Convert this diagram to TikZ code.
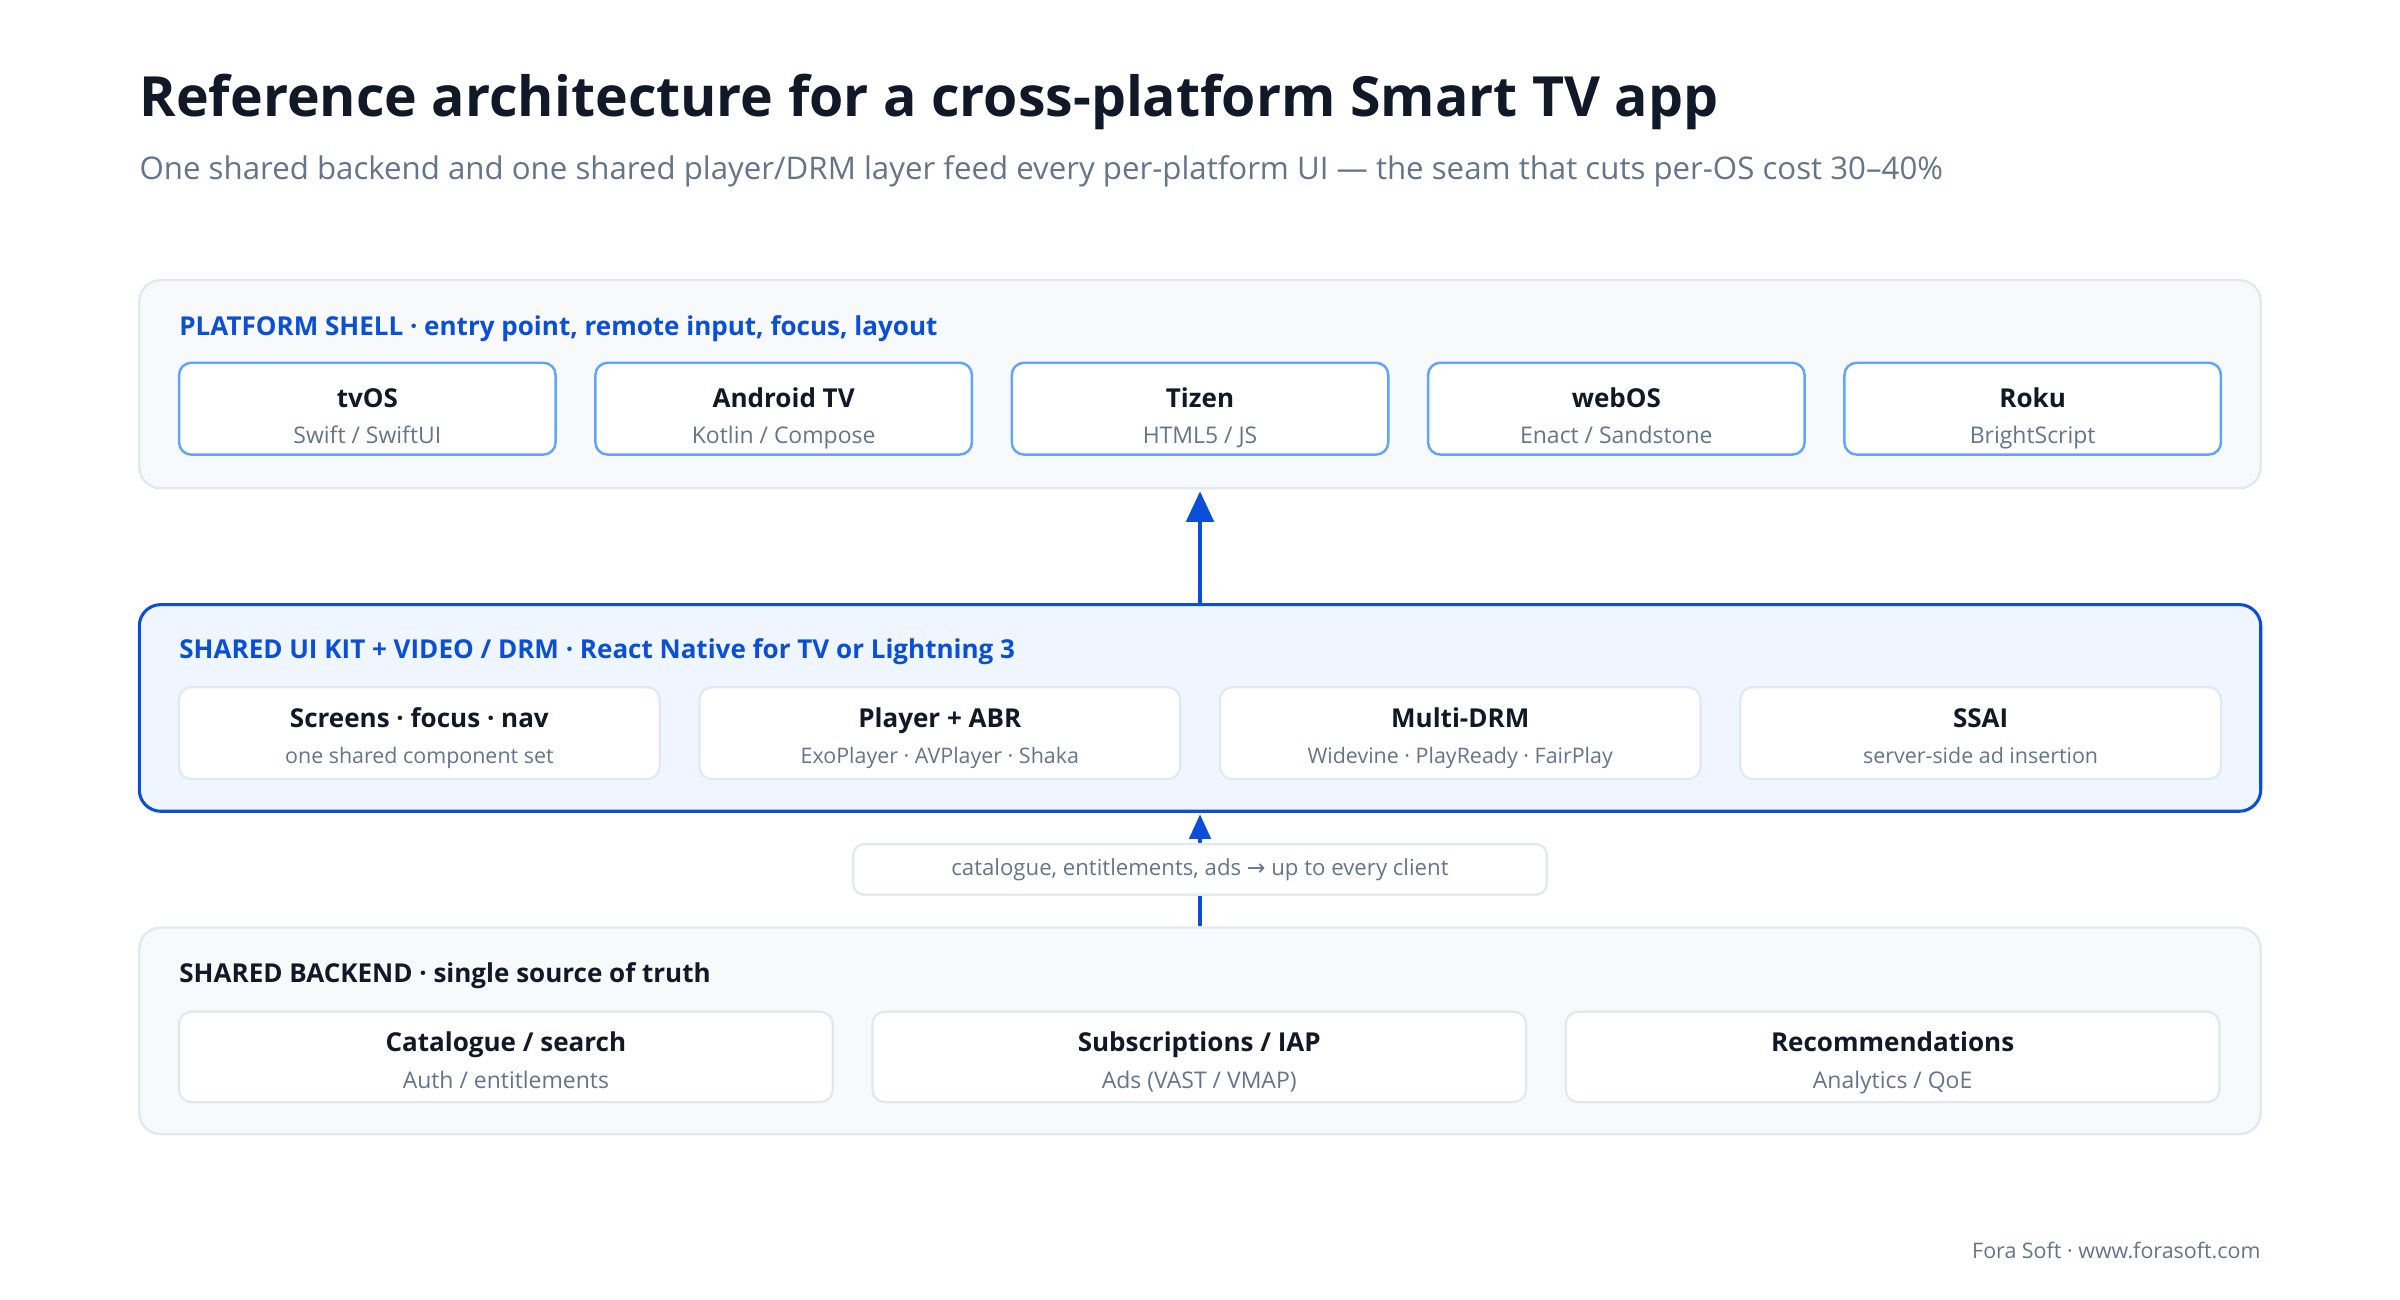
\documentclass[tikz,border=0pt]{standalone}
\usepackage{fontspec}
\setmainfont{Open Sans}
\newfontfamily\dv{DejaVu Sans}
\usetikzlibrary{arrows.meta}
\definecolor{ink}{HTML}{111827}
\definecolor{sub}{HTML}{64748B}
\definecolor{blu}{HTML}{0B4FD8}
\definecolor{lblu}{HTML}{60A5FA}
\definecolor{pfill}{HTML}{F7F9FB}
\definecolor{pline}{HTML}{E2E8F0}
\definecolor{bfill}{HTML}{EFF6FF}
\begin{document}
\begin{tikzpicture}[x=1pt,y=-1pt,
 panel/.style={draw=pline,line width=1.5pt,fill=pfill,rounded corners=14pt},
 box/.style={draw=pline,line width=1.5pt,fill=white,rounded corners=8pt},
 bbox/.style={draw=lblu,line width=1.6pt,fill=white,rounded corners=8pt},
 ttl/.style={font=\fontsize{17}{20}\selectfont\bfseries,text=ink,anchor=base},
 stl/.style={font=\fontsize{15}{18}\selectfont,text=sub,anchor=base},
 sstl/.style={font=\fontsize{14}{17}\selectfont,text=sub,anchor=base},
 hdr/.style={font=\fontsize{17}{20}\selectfont\bfseries,anchor=base west},
 arr/.style={draw=blu,line width=2.4pt,-{Triangle[length=20pt,width=18pt]}}]
\useasboundingbox (0,0) rectangle (1568,849);
\fill[white] (0,0) rectangle (1568,849);
\node[anchor=base west,font=\fontsize{36.2}{40}\selectfont\bfseries,text=ink,inner sep=0] (title) at (91,76) {Reference architecture for a cross-platform Smart TV app};
\node[anchor=base west,font=\fontsize{20.4}{22}\selectfont,text=sub,inner sep=0] (subt) at (91,117) {One shared backend and one shared player/DRM layer feed every per-platform UI — the seam that cuts per-OS cost 30–40\%};
% panel 1
\draw[panel] (91,183) rectangle (1477,319);
\node[hdr,text=blu,inner sep=0] (h1) at (117,219) {PLATFORM SHELL · entry point, remote input, focus, layout};
\foreach \x/\a/\b/\n in {117/tvOS/{Swift / SwiftUI}/p1,389/Android TV/{Kotlin / Compose}/p2,661/Tizen/{HTML5 / JS}/p3,933/webOS/{Enact / Sandstone}/p4,1205/Roku/BrightScript/p5}{
 \draw[bbox] (\x,237) rectangle ++(246,60);
 \node[ttl,inner sep=0] (\n) at (\x+123,266) {\a};
 \node[stl,inner sep=0] (\n s) at (\x+123,290) {\b};
}
% panel 2
\draw[draw=blu,line width=2pt,fill=bfill,rounded corners=14pt] (91,395) rectangle (1477,530);
\node[hdr,text=blu,inner sep=0] (h2) at (117,430) {SHARED UI KIT + VIDEO / DRM · React Native for TV or Lightning 3};
\foreach \x/\a/\b/\n in {117/Screens · focus · nav/one shared component set/q1,457/Player + ABR/ExoPlayer · AVPlayer · Shaka/q2,797/Multi-DRM/Widevine · PlayReady · FairPlay/q3,1137/SSAI/server-side ad insertion/q4}{
 \draw[box] (\x,449) rectangle ++(314,60);
 \node[ttl,inner sep=0] (\n) at (\x+157,475) {\a};
 \node[sstl,inner sep=0] (\n s) at (\x+157,499) {\b};
}
% panel 3
\draw[panel] (91,606) rectangle (1477,741);
\node[hdr,text=ink,inner sep=0] (h3) at (117,642) {SHARED BACKEND · single source of truth};
\foreach \x/\a/\b/\n in {117/{Catalogue / search}/{Auth / entitlements}/r1,570/{Subscriptions / IAP}/{Ads (VAST / VMAP)}/r2,1023/Recommendations/{Analytics / QoE}/r3}{
 \draw[box] (\x,661) rectangle ++(427,59);
 \node[ttl,inner sep=0] (\n) at (\x+213.5,687) {\a};
 \node[stl,inner sep=0] (\n s) at (\x+213.5,711) {\b};
}
% arrows
\coordinate (a1s) at (784,394);
\coordinate (a1e) at (784,321);
\draw[arr] (a1s) -- (a1e);
\coordinate (a2s) at (784,605);
\coordinate (a2e) at (784,532);
\draw[draw=blu,line width=2pt,-{Triangle[length=16pt,width=14pt]}] (a2s) -- (a2e);
\node[draw=pline,line width=1.5pt,fill=white,rounded corners=7pt,minimum width=453pt,minimum height=33pt,inner sep=0,font=\fontsize{14.5}{17}\selectfont,text=sub] (lab) at (784,568) {catalogue, entitlements, ads {\dv →} up to every client};
\node[anchor=base east,font=\fontsize{14}{17}\selectfont,text=sub,inner sep=0] (foot) at (1477,822) {Fora Soft · www.forasoft.com};
\end{tikzpicture}
\end{document}
